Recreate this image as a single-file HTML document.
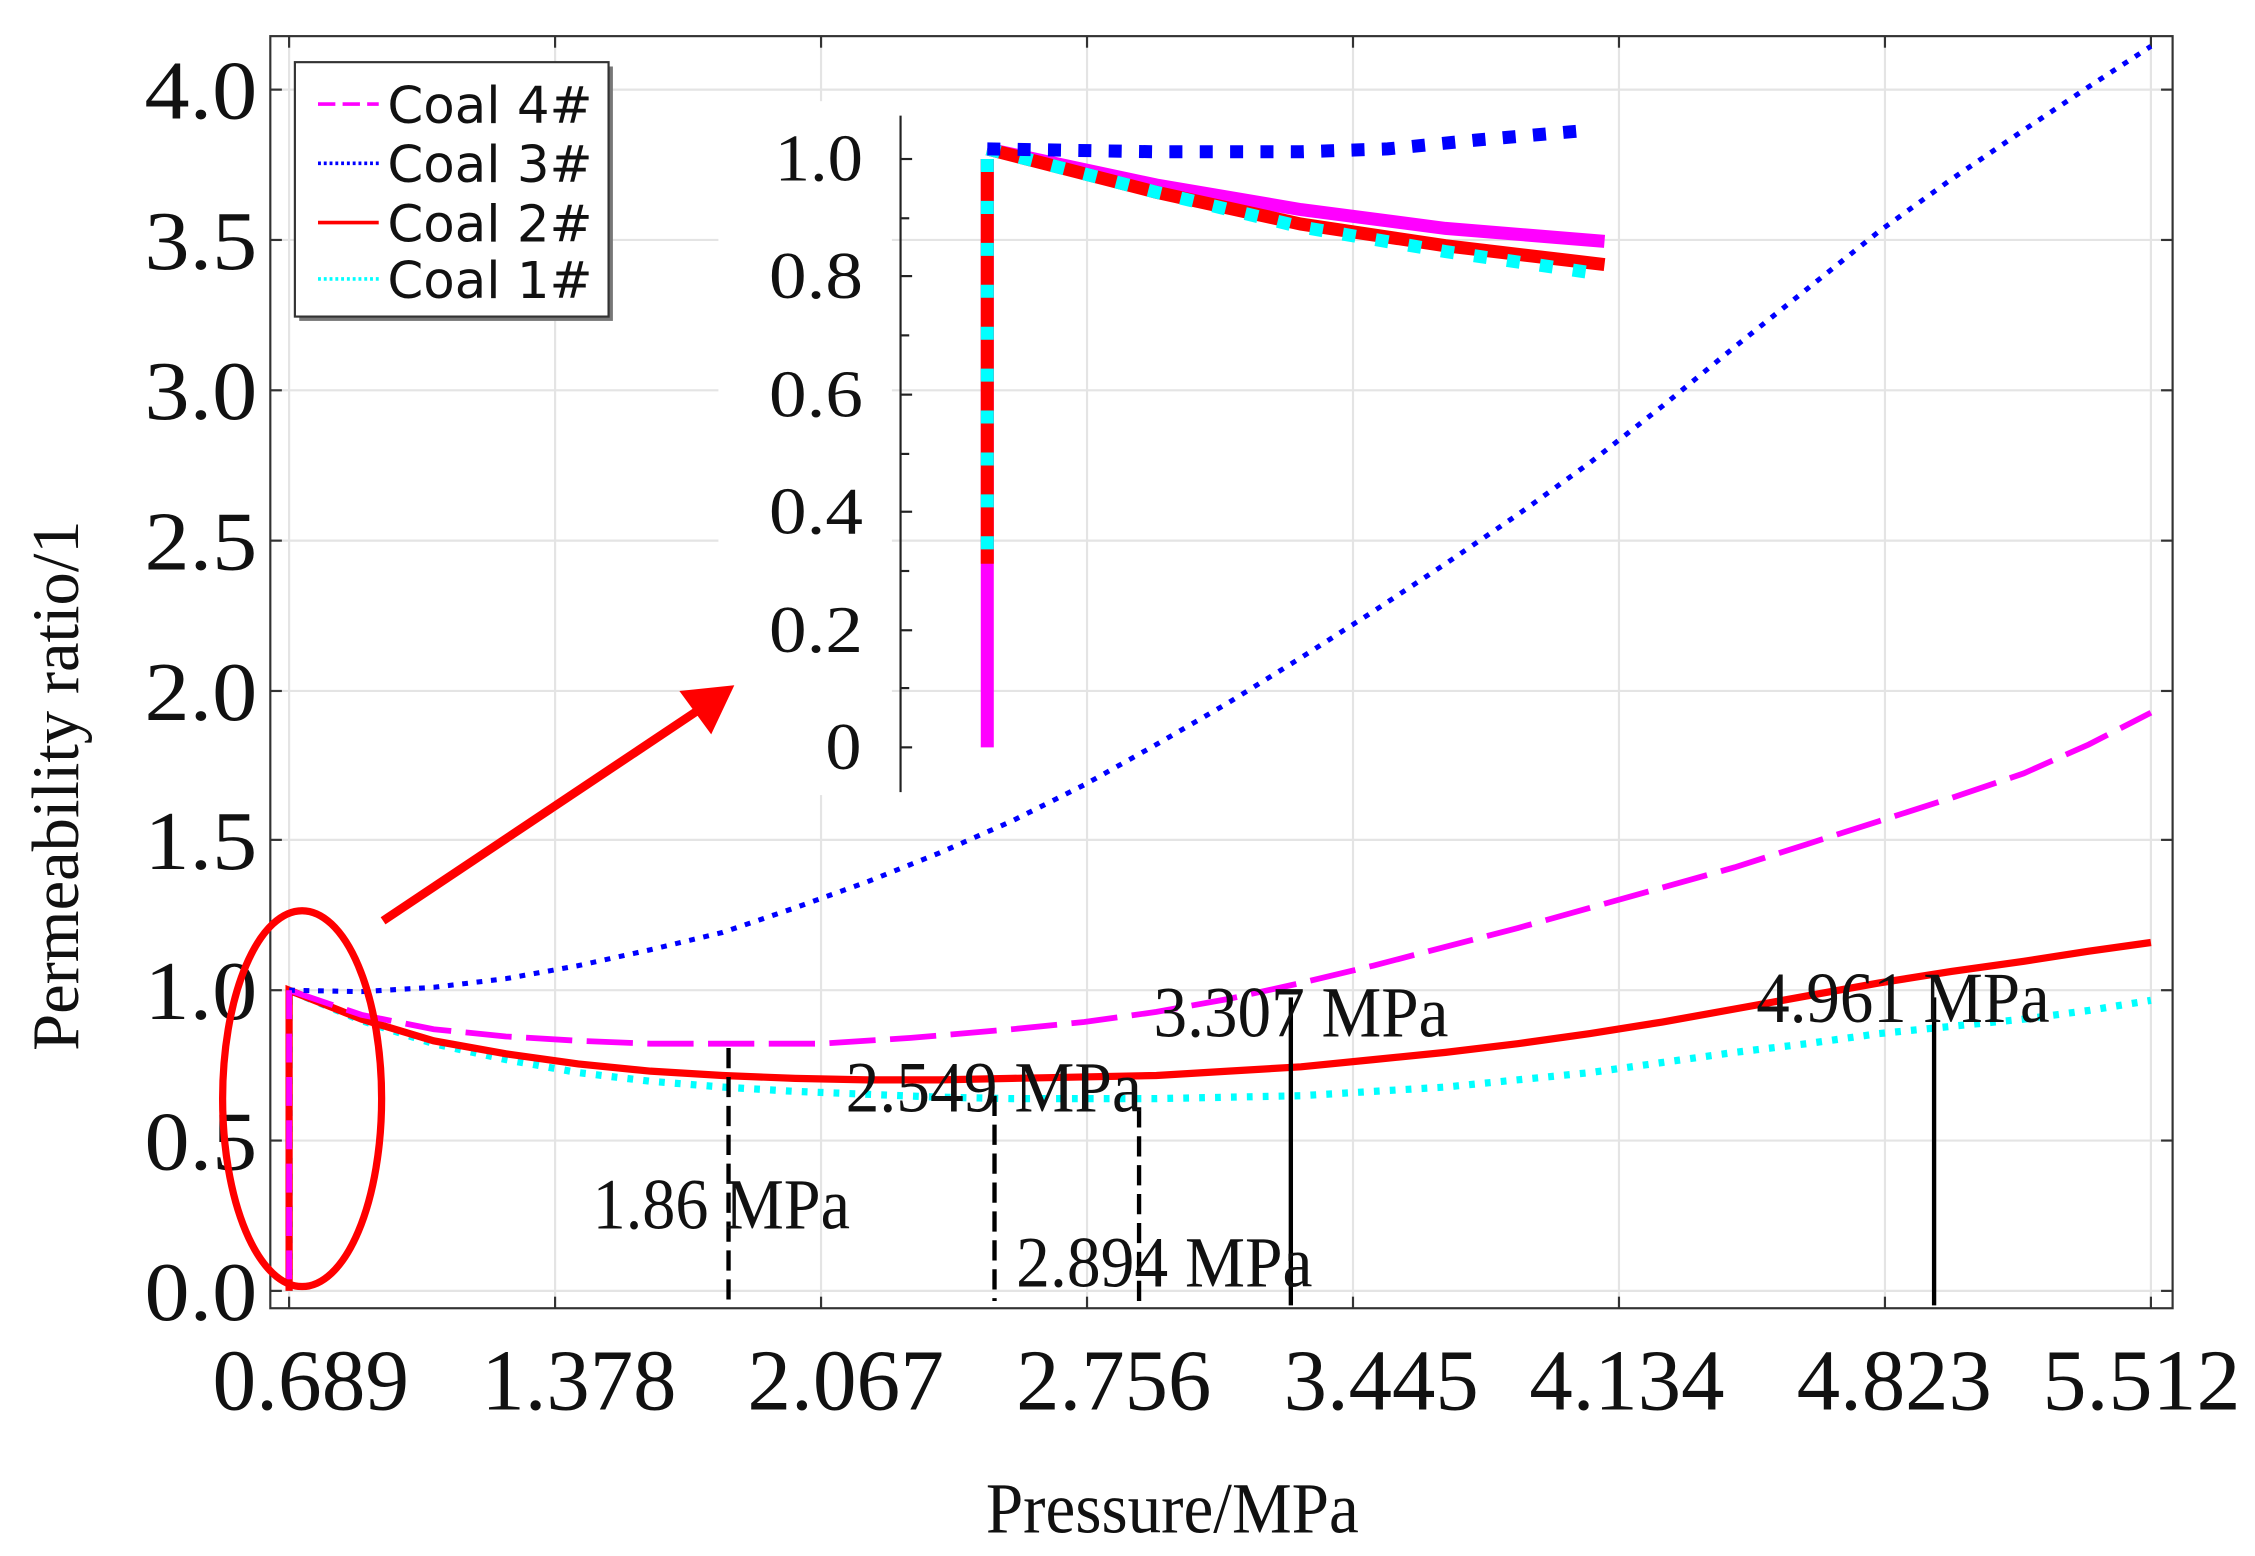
<!DOCTYPE html>
<html><head><meta charset="utf-8"><style>
html,body{margin:0;padding:0;background:#fff;}
svg{display:block;}
</style></head><body>
<svg width="2255" height="1556" viewBox="0 0 1560 1076.4" preserveAspectRatio="none" xmlns="http://www.w3.org/2000/svg">
<rect width="1560" height="1077" fill="#fff"/>
<g stroke="#e4e4e4" stroke-width="1.5">
<line x1="200" y1="25" x2="200" y2="905"/><line x1="384" y1="25" x2="384" y2="905"/><line x1="568" y1="25" x2="568" y2="905"/><line x1="752" y1="25" x2="752" y2="905"/><line x1="936" y1="25" x2="936" y2="905"/><line x1="1120" y1="25" x2="1120" y2="905"/><line x1="1304" y1="25" x2="1304" y2="905"/><line x1="1488" y1="25" x2="1488" y2="905"/>
<line x1="187" y1="893" x2="1503" y2="893"/><line x1="187" y1="789" x2="1503" y2="789"/><line x1="187" y1="685" x2="1503" y2="685"/><line x1="187" y1="581" x2="1503" y2="581"/><line x1="187" y1="478" x2="1503" y2="478"/><line x1="187" y1="374" x2="1503" y2="374"/><line x1="187" y1="270" x2="1503" y2="270"/><line x1="187" y1="166" x2="1503" y2="166"/><line x1="187" y1="62" x2="1503" y2="62"/>
</g>
<rect x="187" y="25" width="1316" height="880" fill="none" stroke="#333" stroke-width="1.5"/>
<g stroke="#333" stroke-width="1.5">
<line x1="187" y1="893" x2="195" y2="893"/><line x1="187" y1="789" x2="195" y2="789"/><line x1="187" y1="685" x2="195" y2="685"/><line x1="187" y1="581" x2="195" y2="581"/><line x1="187" y1="478" x2="195" y2="478"/><line x1="187" y1="374" x2="195" y2="374"/><line x1="187" y1="270" x2="195" y2="270"/><line x1="187" y1="166" x2="195" y2="166"/><line x1="187" y1="62" x2="195" y2="62"/>
<line x1="1495" y1="893" x2="1503" y2="893"/><line x1="1495" y1="789" x2="1503" y2="789"/><line x1="1495" y1="685" x2="1503" y2="685"/><line x1="1495" y1="581" x2="1503" y2="581"/><line x1="1495" y1="478" x2="1503" y2="478"/><line x1="1495" y1="374" x2="1503" y2="374"/><line x1="1495" y1="270" x2="1503" y2="270"/><line x1="1495" y1="166" x2="1503" y2="166"/><line x1="1495" y1="62" x2="1503" y2="62"/>
<line x1="200" y1="897" x2="200" y2="905"/><line x1="384" y1="897" x2="384" y2="905"/><line x1="568" y1="897" x2="568" y2="905"/><line x1="752" y1="897" x2="752" y2="905"/><line x1="936" y1="897" x2="936" y2="905"/><line x1="1120" y1="897" x2="1120" y2="905"/><line x1="1304" y1="897" x2="1304" y2="905"/><line x1="1488" y1="897" x2="1488" y2="905"/>
<line x1="200" y1="25" x2="200" y2="33"/><line x1="384" y1="25" x2="384" y2="33"/><line x1="568" y1="25" x2="568" y2="33"/><line x1="752" y1="25" x2="752" y2="33"/><line x1="936" y1="25" x2="936" y2="33"/><line x1="1120" y1="25" x2="1120" y2="33"/><line x1="1304" y1="25" x2="1304" y2="33"/><line x1="1488" y1="25" x2="1488" y2="33"/>
</g>
<g font-family="Liberation Serif, serif" font-size="58" fill="#111" lengthAdjust="spacingAndGlyphs">
<text x="100" y="913" textLength="78" lengthAdjust="spacingAndGlyphs">0.0</text><text x="100" y="809" textLength="78" lengthAdjust="spacingAndGlyphs">0.5</text><text x="100" y="705" textLength="78" lengthAdjust="spacingAndGlyphs">1.0</text><text x="100" y="601" textLength="78" lengthAdjust="spacingAndGlyphs">1.5</text><text x="100" y="498" textLength="78" lengthAdjust="spacingAndGlyphs">2.0</text><text x="100" y="394" textLength="78" lengthAdjust="spacingAndGlyphs">2.5</text><text x="100" y="290" textLength="78" lengthAdjust="spacingAndGlyphs">3.0</text><text x="100" y="186" textLength="78" lengthAdjust="spacingAndGlyphs">3.5</text><text x="100" y="82" textLength="78" lengthAdjust="spacingAndGlyphs">4.0</text>
</g>
<g font-family="Liberation Serif, serif" font-size="60" fill="#111">
<text x="147" y="975" textLength="136" lengthAdjust="spacingAndGlyphs">0.689</text><text x="333" y="975" textLength="135" lengthAdjust="spacingAndGlyphs">1.378</text><text x="517" y="975" textLength="136" lengthAdjust="spacingAndGlyphs">2.067</text><text x="703" y="975" textLength="135" lengthAdjust="spacingAndGlyphs">2.756</text><text x="888" y="975" textLength="135" lengthAdjust="spacingAndGlyphs">3.445</text><text x="1058" y="975" textLength="135" lengthAdjust="spacingAndGlyphs">4.134</text><text x="1243" y="975" textLength="135" lengthAdjust="spacingAndGlyphs">4.823</text><text x="1413" y="975" textLength="137" lengthAdjust="spacingAndGlyphs">5.512</text>
</g>
<text x="682" y="1060" font-family="Liberation Serif, serif" font-size="50" fill="#111" textLength="258" lengthAdjust="spacingAndGlyphs">Pressure/MPa</text>
<text transform="translate(54,727) rotate(-90)" font-family="Liberation Serif, serif" font-size="46" fill="#111" textLength="367" lengthAdjust="spacingAndGlyphs">Permeability ratio/1</text>
<rect x="497" y="70" width="120" height="480" fill="#fff"/>
<g fill="none">
<polyline stroke="#00ffff" stroke-width="5" stroke-dasharray="4 7" points="200,893 200,685 250,706 300,722 350,733 400,742 450,748 500,752 550,755 600,757 650,759 700,760 750,760 800,760 850,759 900,758 950,755 1000,752 1050,747 1100,742 1150,735 1200,728 1250,722 1300,715 1350,710 1400,705 1445,699 1488,692"/>
<polyline stroke="#ff0000" stroke-width="5" points="200,893 200,685 250,705 300,720 350,729 400,736 450,741 500,744 550,746 600,747 650,747 700,746 750,745 800,744 850,741 900,738 950,733 1000,728 1050,722 1100,715 1150,707 1200,698 1250,689 1300,680 1350,672 1400,665 1445,658 1488,652"/>
<polyline stroke="#ff00ff" stroke-width="4" stroke-dasharray="32 10" points="200,685 250,702 300,712 350,717 400,720 450,722 500,722 568,722 630,718 700,712 750,707 800,700 850,691 900,680 950,668 1000,655 1050,642 1100,628 1150,614 1200,600 1250,584 1300,568 1350,552 1400,535 1445,515 1488,493"/>
<polyline stroke="#0000ff" stroke-width="3.5" stroke-dasharray="4 6" points="200,685 250,686 300,683 350,677 400,668 450,657 500,645 550,628 600,610 650,590 700,568 750,543 800,515 850,486 900,455 950,423 1000,390 1050,356 1100,320 1150,281 1200,240 1250,200 1300,160 1350,124 1400,90 1445,60 1488,32"/>
<line x1="200" y1="685" x2="200" y2="893" stroke="#ff00ff" stroke-width="4" stroke-dasharray="20 10"/>
</g>
<g stroke="#000" stroke-width="3" fill="none">
<line x1="504" y1="725" x2="504" y2="900" stroke-dasharray="14 6"/>
<line x1="688" y1="758" x2="688" y2="900" stroke-dasharray="14 6"/>
<line x1="788" y1="766" x2="788" y2="900" stroke-dasharray="14 6"/>
<line x1="893" y1="690" x2="893" y2="903"/>
<line x1="1338" y1="690" x2="1338" y2="903"/>
</g>
<g font-family="Liberation Serif, serif" font-size="50" fill="#111">
<text x="410" y="850" textLength="178" lengthAdjust="spacingAndGlyphs">1.86 MPa</text><text x="585" y="769" textLength="205" lengthAdjust="spacingAndGlyphs">2.549 MPa</text><text x="703" y="890" textLength="205" lengthAdjust="spacingAndGlyphs">2.894 MPa</text><text x="798" y="717" textLength="204" lengthAdjust="spacingAndGlyphs">3.307 MPa</text><text x="1215" y="707" textLength="203" lengthAdjust="spacingAndGlyphs">4.961 MPa</text>
</g>
<ellipse cx="209" cy="760" rx="55" ry="130" fill="none" stroke="#ff0000" stroke-width="5"/>
<line x1="265" y1="637" x2="485" y2="490" stroke="#ff0000" stroke-width="6"/>
<polygon points="508,474 470,478 492,508" fill="#ff0000"/>
<line x1="623" y1="80" x2="623" y2="548" stroke="#222" stroke-width="1.5"/>
<g stroke="#222" stroke-width="1.5">
<line x1="623" y1="110" x2="631" y2="110"/><line x1="623" y1="151" x2="629" y2="151"/><line x1="623" y1="191" x2="631" y2="191"/><line x1="623" y1="232" x2="629" y2="232"/><line x1="623" y1="273" x2="631" y2="273"/><line x1="623" y1="314" x2="629" y2="314"/><line x1="623" y1="354" x2="631" y2="354"/><line x1="623" y1="395" x2="629" y2="395"/><line x1="623" y1="436" x2="631" y2="436"/><line x1="623" y1="476" x2="629" y2="476"/><line x1="623" y1="517" x2="631" y2="517"/>
</g>
<g font-family="Liberation Serif, serif" font-size="46" fill="#111">
<text x="536" y="125" textLength="61" lengthAdjust="spacingAndGlyphs">1.0</text><text x="532" y="206" textLength="65" lengthAdjust="spacingAndGlyphs">0.8</text><text x="532" y="288" textLength="65" lengthAdjust="spacingAndGlyphs">0.6</text><text x="532" y="369" textLength="65" lengthAdjust="spacingAndGlyphs">0.4</text><text x="532" y="451" textLength="65" lengthAdjust="spacingAndGlyphs">0.2</text><text x="571" y="532" textLength="25" lengthAdjust="spacingAndGlyphs">0</text>
</g>
<g fill="none" stroke-width="9">
<line x1="683" y1="517" x2="683" y2="110" stroke="#ff00ff"/>
<line x1="683" y1="390" x2="683" y2="110" stroke="#ff0000"/>
<line x1="683" y1="380" x2="683" y2="110" stroke="#00ffff" stroke-dasharray="9 20"/>
<polyline stroke="#ff00ff" points="683,103 800,128 900,145 1000,158 1110,167"/>
<polyline stroke="#ff0000" points="683,103 800,133 900,155 1000,170 1110,183"/>
<polyline stroke="#00ffff" stroke-dasharray="9 14" points="683,103 800,133 900,157 1000,174 1110,190"/>
<polyline stroke="#0000ff" stroke-dasharray="9 12" points="683,103 800,105 900,105 960,103 1020,97 1100,90"/>
</g>
<rect x="207" y="46" width="217" height="176" fill="#777"/>
<rect x="204" y="43" width="217" height="176" fill="#fff" stroke="#333" stroke-width="1.5"/>
<g stroke-width="2.5">
<line x1="220" y1="72" x2="262" y2="72" stroke="#ff00ff" stroke-dasharray="12 5"/>
<line x1="220" y1="113" x2="262" y2="113" stroke="#0000ff" stroke-dasharray="2 2"/>
<line x1="220" y1="154" x2="262" y2="154" stroke="#ff0000"/>
<line x1="220" y1="193" x2="262" y2="193" stroke="#00ffff" stroke-dasharray="2 2"/>
</g>
<g font-family="DejaVu Sans, sans-serif" font-size="35" fill="#111">
<text x="268" y="85" textLength="142" lengthAdjust="spacingAndGlyphs">Coal 4#</text><text x="268" y="126" textLength="142" lengthAdjust="spacingAndGlyphs">Coal 3#</text><text x="268" y="167" textLength="142" lengthAdjust="spacingAndGlyphs">Coal 2#</text><text x="268" y="206" textLength="142" lengthAdjust="spacingAndGlyphs">Coal 1#</text>
</g>
</svg>
</body></html>
